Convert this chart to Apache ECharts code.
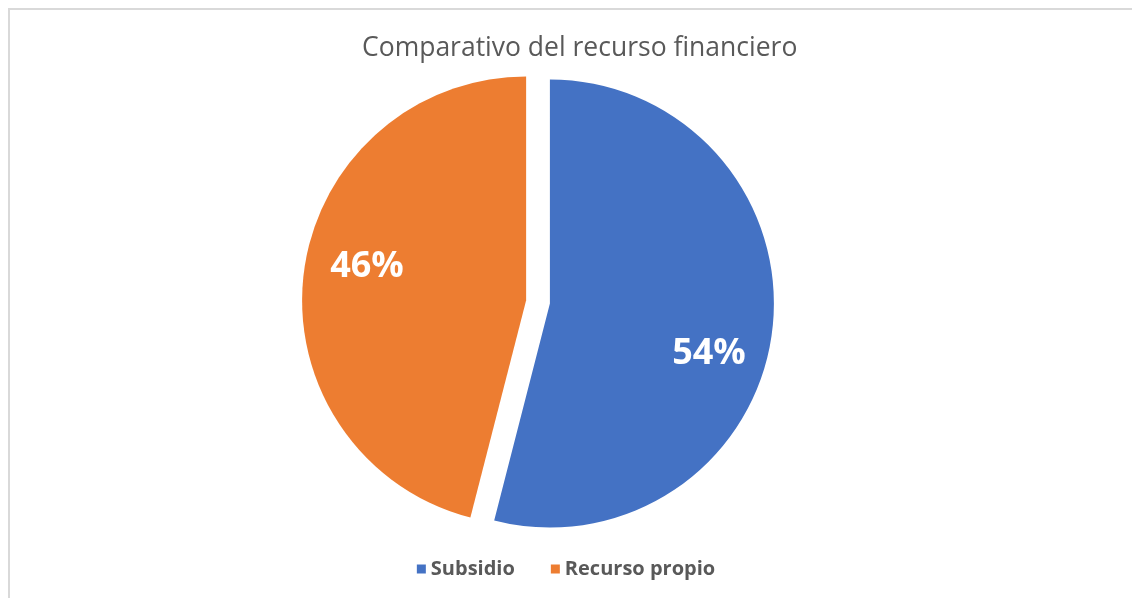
<!DOCTYPE html>
<html>
<head>
<meta charset="utf-8">
<script src="https://cdn.jsdelivr.net/npm/echarts@6/dist/echarts.min.js"></script>
<style>
  html, body { margin: 0; padding: 0; background: #fff; }
  #frame { position: absolute; left: 8px; top: 8px; width: 1200px; height: 700px;
           border-top: 2px solid #D9D9D9; border-left: 2px solid #D9D9D9; }
  #chart { position: absolute; left: 0; top: 0; width: 1132px; height: 598px; }
</style>
</head>
<body>
<div id="frame"></div>
<div id="chart"></div>
<script>
var categories = ['Subsidio', 'Recurso propio'];
var values = [54, 46];
var colors = ['#4472C4', '#ED7D31'];
var labelShift = [[45, 36], [-45, -19]];

var chart = echarts.init(document.getElementById('chart'), null, { renderer: 'canvas' });
chart.setOption({
  animation: false,
  title: {
    text: 'Comparativo del recurso financiero',
    left: 357,
    top: 30,
    textStyle: { color: '#595959', fontSize: 26.5, fontWeight: 'normal', fontFamily: 'Open Sans' }
  },
  legend: {
    bottom: 14,
    left: 'center',
    icon: 'rect',
    itemWidth: 9,
    itemHeight: 9,
    itemGap: 36,
    selectedMode: false,
    textStyle: { color: '#595959', fontSize: 20, fontWeight: 'bold', fontFamily: 'Open Sans' },
    data: categories
  },
  series: [{
    type: 'pie',
    radius: [0, 224],
    center: [538, 302],
    startAngle: 90,
    clockwise: true,
    selectedMode: 'multiple',
    selectedOffset: 12,
    silent: true,
    label: {
      show: true,
      position: 'inside',
      formatter: '{d}%',
      color: '#fff',
      fontSize: 36,
      fontWeight: 'bold',
      fontFamily: 'Open Sans'
    },
    labelLayout: function (p) {
      return { dx: labelShift[p.dataIndex][0], dy: labelShift[p.dataIndex][1] };
    },
    labelLine: { show: false },
    data: categories.map(function (c, i) {
      return { name: c, value: values[i], selected: true, itemStyle: { color: colors[i] } };
    })
  }]
});
</script>
</body>
</html>
